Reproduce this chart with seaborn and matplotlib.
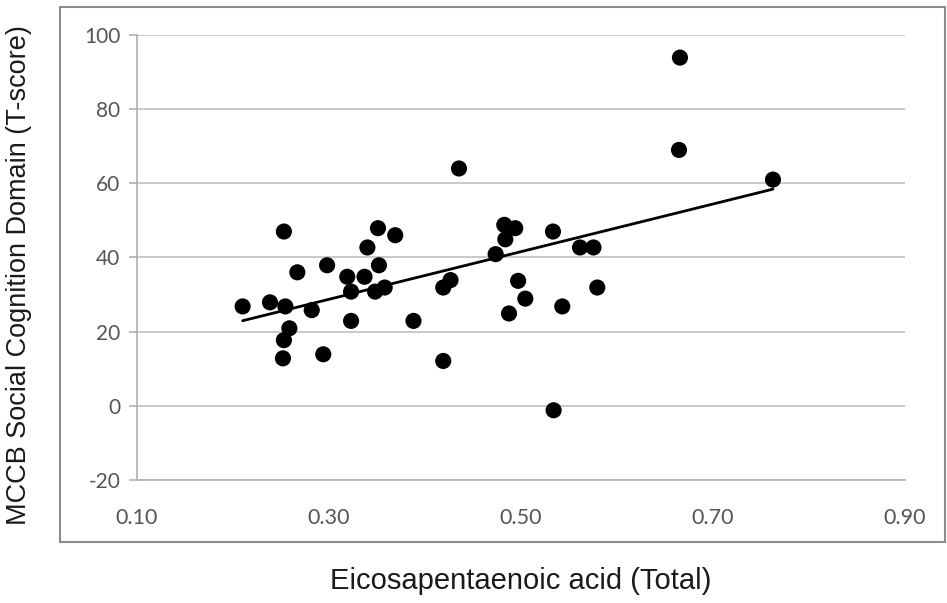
import matplotlib
matplotlib.use("Agg")
import matplotlib.pyplot as plt
import seaborn as sns
import pandas as pd
from matplotlib.patches import Rectangle

# Data
epa_total = [0.210, 0.2385, 0.253, 0.2545, 0.2587, 0.253, 0.252, 0.267, 0.282, 0.294,
             0.298, 0.319, 0.323, 0.323, 0.337, 0.340, 0.351, 0.352, 0.348, 0.358,
             0.369, 0.388, 0.4354, 0.419, 0.4266, 0.419, 0.4736, 0.4826, 0.494, 0.4837,
             0.497, 0.5045, 0.4875, 0.5333, 0.534, 0.543, 0.5615, 0.5755, 0.5795,
             0.6656, 0.6646, 0.7625]
social_cog = [26.8, 27.9, 47.0, 26.8, 20.9, 17.7, 12.8, 36.0, 25.8, 13.9,
              37.9, 34.8, 30.8, 22.9, 34.8, 42.7, 47.9, 37.9, 30.8, 31.9,
              46.0, 22.9, 64.0, 31.9, 33.9, 12.1, 40.9, 48.8, 47.9, 44.9,
              33.7, 28.9, 24.9, 47.0, -1.2, 26.8, 42.7, 42.7, 31.9,
              93.9, 69.0, 61.0]
x_ticks = [0.10, 0.30, 0.50, 0.70, 0.90]
x_tick_labels = ["0.10", "0.30", "0.50", "0.70", "0.90"]
y_ticks = [-20, 0, 20, 40, 60, 80, 100]

df = pd.DataFrame({"epa": epa_total, "score": social_cog})

sns.set_theme(style="white")
plt.rcParams["axes.unicode_minus"] = False
fig = plt.figure(figsize=(9.47, 6.03), dpi=100)
ax = fig.add_axes([0.1447, 0.204, 0.8109, 0.738])

# outer chart border
fig.patches.append(Rectangle((0.0634, 0.101), 0.934, 0.887, transform=fig.transFigure,
                             fill=False, edgecolor="#8c8c8c", linewidth=1.5, zorder=0))

sns.regplot(data=df, x="epa", y="score", ax=ax, ci=None,
            scatter_kws=dict(s=135, color="black", edgecolor="none", alpha=1, zorder=3),
            line_kws=dict(color="black", linewidth=2.0, zorder=4))

ax.set_xlim(0.10, 0.90)
ax.set_ylim(-20, 100)
ax.set_xticks(x_ticks)
ax.set_xticklabels(x_tick_labels)
ax.set_yticks(y_ticks)
ax.yaxis.grid(True, color="#c0c0c0", linewidth=1.2)
ax.xaxis.grid(False)
for side in ["top", "right"]:
    ax.spines[side].set_visible(False)
ax.spines["left"].set_color("#b0b0b0")
ax.spines["bottom"].set_color("#b0b0b0")
ax.spines["left"].set_linewidth(1.2)
ax.spines["bottom"].set_linewidth(1.2)
ax.tick_params(axis="y", left=True, length=6, width=1.2, color="#b0b0b0",
               labelsize=15, labelcolor="#555555", pad=6)
ax.tick_params(axis="x", bottom=False, labelsize=15.5, labelcolor="#555555", pad=14)
for lab in ax.get_xticklabels() + ax.get_yticklabels():
    lab.set_family(["Lato", "DejaVu Sans"])

ax.set_xlabel("Eicosapentaenoic acid (Total)", fontsize=21, family=["Liberation Sans"],
              color="#1a1a1a", labelpad=28)
ax.set_ylabel("MCCB Social Cognition Domain (T-score)", fontsize=19.5, family=["Liberation Sans"],
              color="#1a1a1a")
ax.yaxis.set_label_coords(-0.137, 0.46)

fig.savefig("out.png", dpi=100)
